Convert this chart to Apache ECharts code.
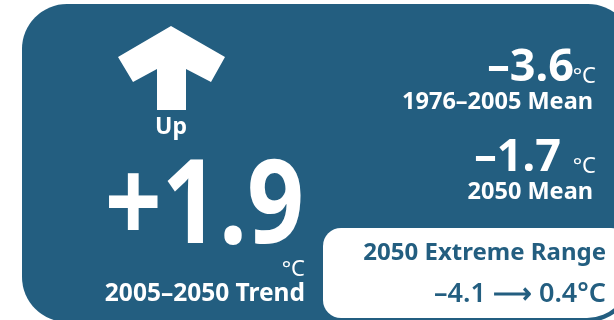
<!DOCTYPE html>
<html>
<head>
<meta charset="utf-8">
<script src="https://cdn.jsdelivr.net/npm/echarts@6/dist/echarts.min.js"></script>
<style>
  html, body { margin: 0; padding: 0; background: #ffffff; }
  #chart { width: 614px; height: 320px; }
</style>
</head>
<body>
<div id="chart"></div>
<script>
// ---- data ----
const direction = 'Up';
const baselineMean = -3.6;      // 1976–2005 Mean
const futureMean = -1.7;        // 2050 Mean
const trend = 1.9;              // 2005–2050 Trend
const extremeRange = [-4.1, 0.4];
const labels = ['1976–2005 Mean', '2050 Mean', '2005–2050 Trend', '2050 Extreme Range'];
const unit = '°C';

// ---- style ----
const DARK = '#235e80';
const FONT = '"Noto Sans", "Open Sans", sans-serif';

function fmt(v, plus) {
  const s = Math.abs(v).toFixed(1);
  if (v < 0) return '\u2013' + s;
  return (plus ? '+' : '') + s;
}

// text helper: x = anchor, baseline = alphabetic baseline
function txt(str, x, baseline, size, weight, color, align, extra) {
  const el = {
    type: 'text',
    x: x,
    y: baseline - 0.37 * size,
    style: {
      text: str,
      fill: color,
      font: weight + ' ' + size + 'px ' + FONT,
      align: align,
      verticalAlign: 'middle'
    },
    z: 10
  };
  return Object.assign(el, extra || {});
}

const chart = echarts.init(document.getElementById('chart'), null, { renderer: 'canvas' });

const graphic = [
  // dark panel
  { type: 'rect', shape: { x: 22, y: 4, width: 611, height: 318, r: 45 }, style: { fill: DARK }, z: 1 },
  // white range box
  { type: 'rect', shape: { x: 323, y: 228, width: 306, height: 90, r: [18, 18, 42, 18] }, style: { fill: '#ffffff' }, z: 2 },
  // arrow
  {
    type: 'polygon',
    shape: { points: [[171, 26], [225, 57], [211, 82], [186, 69], [186, 110], [157, 110], [157, 69], [133, 82], [118, 57]] },
    style: { fill: '#ffffff' }, z: 5
  },
  txt(direction, 171, 136, 23, 'bold', '#ffffff', 'center'),

  // baseline mean
  txt(fmt(baselineMean), 574, 85, 45, 'bold', '#ffffff', 'right'),
  txt(unit, 596, 85, 22, 'normal', '#ffffff', 'right'),
  txt(labels[0], 593, 111, 23.5, 'bold', '#ffffff', 'right'),

  // future mean
  txt(fmt(futureMean), 561, 175, 45, 'bold', '#ffffff', 'right'),
  txt(unit, 596, 175, 22, 'normal', '#ffffff', 'right'),
  txt(labels[1], 593, 201, 23.5, 'bold', '#ffffff', 'right'),

  // trend
  txt(fmt(trend, true), 304, 253, 116, 'bold', '#ffffff', 'right', { scaleX: 0.86 }),
  txt(unit, 305, 278, 22, 'normal', '#ffffff', 'right'),
  txt(labels[2], 305, 303, 24.5, 'bold', '#ffffff', 'right'),

  // extreme range
  txt(labels[3], 606, 262, 24, 'bold', DARK, 'right'),
  txt(fmt(extremeRange[0]) + ' \u27F6 ' + fmt(extremeRange[1]) + unit, 606, 304, 27, '600', DARK, 'right')
];

chart.setOption({
  backgroundColor: '#ffffff',
  animation: false,
  graphic: graphic
});
</script>
</body>
</html>
